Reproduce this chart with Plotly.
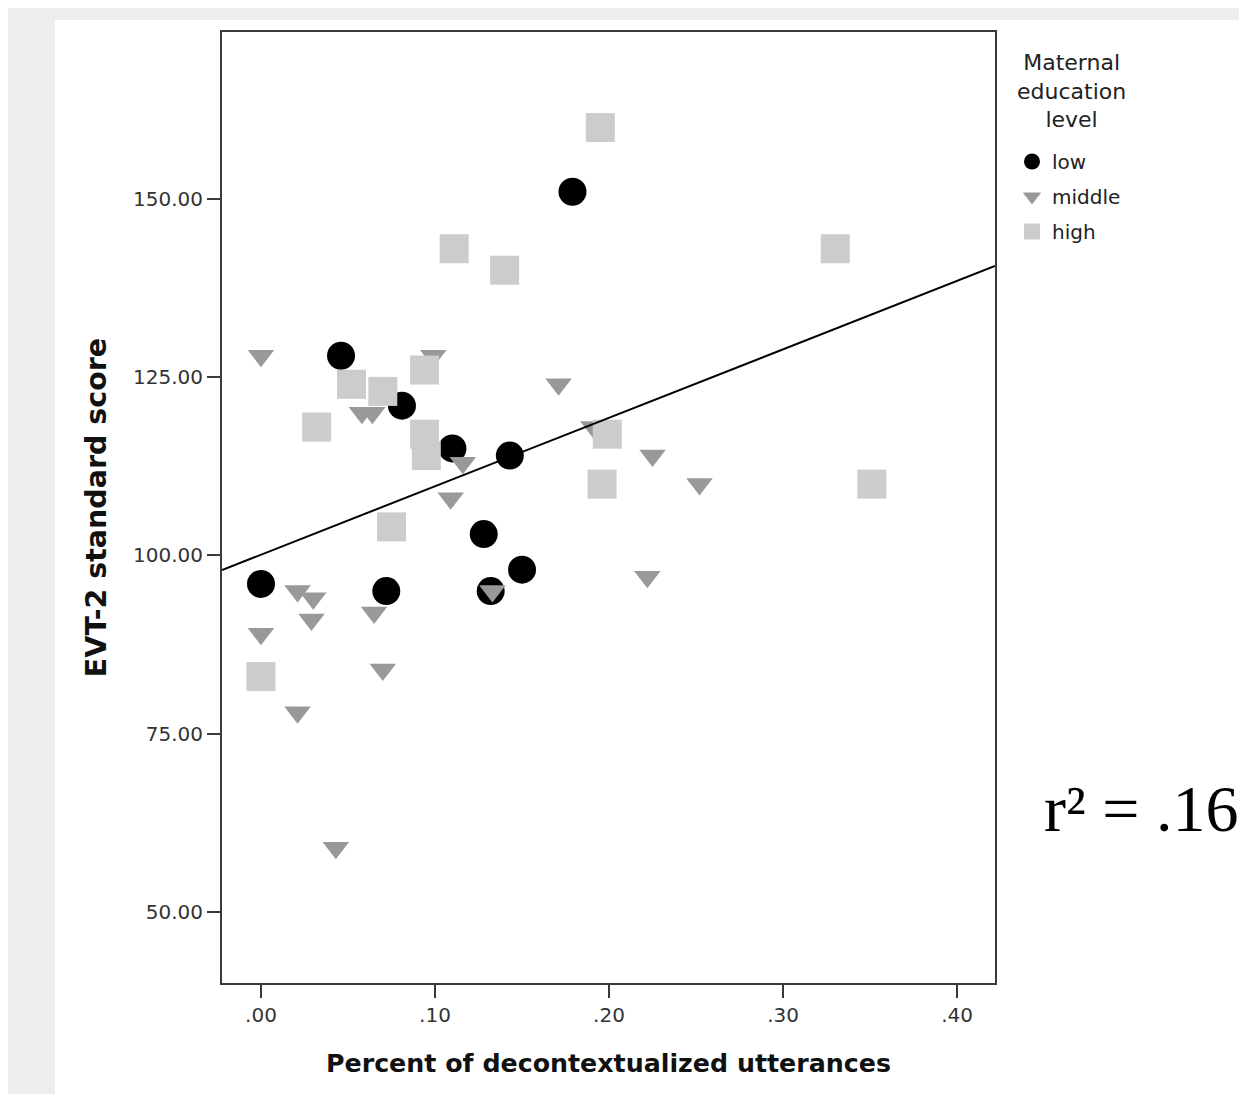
import plotly.graph_objects as go

# ---- data ----
low_x = [0.179, 0.046, 0.081, 0.110, 0.143, 0.128, 0.150, 0.000, 0.072, 0.132]
low_y = [151, 128, 121, 115, 114, 103, 98, 96, 95, 95]

middle_x = [0.000, 0.099, 0.058, 0.064, 0.171, 0.116, 0.191, 0.225, 0.252, 0.109,
            0.222, 0.021, 0.030, 0.029, 0.000, 0.065, 0.133, 0.070, 0.021, 0.043]
middle_y = [128, 128, 120, 120, 124, 113, 118, 114, 110, 108,
            97, 95, 94, 91, 89, 92, 95, 84, 78, 59]

high_x = [0.195, 0.111, 0.140, 0.330, 0.052, 0.070, 0.094, 0.032, 0.094, 0.095,
          0.199, 0.196, 0.351, 0.075, 0.000]
high_y = [160, 143, 140, 143, 124, 123, 126, 118, 117, 114,
          117, 110, 110, 104, 83]

fit_intercept = 100.1
fit_slope = 96.0

x_tick_vals = [0.0, 0.1, 0.2, 0.3, 0.4]
x_tick_labels = [".00", ".10", ".20", ".30", ".40"]
y_tick_vals = [50, 75, 100, 125, 150]
y_tick_labels = ["50.00", "75.00", "100.00", "125.00", "150.00"]

x_range = [-0.0224, 0.4218]
y_range = [40.04, 173.4]

# ---- figure geometry (page is offset by the 8px body margin) ----
OFF = 8
W, H = 1247 - OFF, 1094 - OFF
ml = 222 - OFF
mt = 32 - OFF
mr = W - (995 - OFF)
mb = H - (983 - OFF)
pw, ph = W - ml - mr, H - mt - mb

def pxx(px):  # page pixel x -> paper
    return (px - OFF - ml) / pw

def pxy(py):  # page pixel y -> paper
    return (H - mb - (py - OFF)) / ph

fig = go.Figure()

fig.add_trace(go.Scatter(
    x=low_x, y=low_y, mode="markers", name="low", legendgroup="low",
    marker=dict(symbol="circle", size=28, color="#000000", line=dict(width=0)),
))
fig.add_trace(go.Scatter(
    x=middle_x, y=middle_y, mode="markers", name="middle", legendgroup="middle",
    marker=dict(symbol="triangle-down", size=23, color="#999999", line=dict(width=0)),
))
fig.add_trace(go.Scatter(
    x=high_x, y=high_y, mode="markers", name="high", legendgroup="high",
    marker=dict(symbol="square", size=29, color="#cccccc", line=dict(width=0)),
))

line_x = list(x_range)
line_y = [fit_intercept + fit_slope * v for v in line_x]
fig.add_trace(go.Scatter(
    x=line_x, y=line_y, mode="lines", showlegend=False,
    line=dict(color="#000000", width=2),
))

axis_common = dict(
    showgrid=False, zeroline=False, showline=True, mirror=True,
    linecolor="#3a3a3a", linewidth=2,
    ticks="outside", ticklen=13, tickwidth=2, tickcolor="#3a3a3a",
    tickfont=dict(family="DejaVu Sans", size=20, color="#333333"),
)

fig.update_xaxes(
    range=x_range, tickmode="array", tickvals=x_tick_vals, ticktext=x_tick_labels,
    title=dict(text="Percent of decontextualized utterances",
               font=dict(family="DejaVu Sans", size=25.3, color="#111111", weight="bold"),
               standoff=28),
    **axis_common,
)
fig.update_yaxes(
    range=y_range, tickmode="array", tickvals=y_tick_vals, ticktext=y_tick_labels,
    title=dict(text="EVT-2 standard score",
               font=dict(family="DejaVu Sans", size=28.5, color="#111111", weight="bold"),
               standoff=18),
    **axis_common,
)

fig.update_layout(
    width=W, height=H,
    margin=dict(l=ml, r=mr, t=mt, b=mb, autoexpand=False),
    paper_bgcolor="#ededed",
    plot_bgcolor="#ffffff",
    showlegend=True,
    legend=dict(
        x=pxx(1012), y=pxy(142), xanchor="left", yanchor="top",
        bgcolor="rgba(0,0,0,0)",
        font=dict(family="DejaVu Sans", size=20, color="#222222"),
        traceorder="grouped", tracegroupgap=6,
        itemsizing="trace",
    ),
    shapes=[dict(
        type="rect", xref="paper", yref="paper", layer="below",
        x0=pxx(55), x1=pxx(1260),
        y0=pxy(1110), y1=pxy(20),
        fillcolor="#ffffff", line=dict(width=0),
    )],
    annotations=[
        dict(
            text="Maternal<br>education<br>level", xref="paper", yref="paper",
            x=pxx(1071), y=pxy(48), xanchor="center", yanchor="top", align="center",
            showarrow=False,
            font=dict(family="DejaVu Sans", size=22, color="#222222"),
        ),
        dict(
            text="r\u00b2 = .16", xref="paper", yref="paper",
            x=pxx(1141), y=pxy(808),
            xanchor="center", yanchor="middle", showarrow=False,
            font=dict(family="Liberation Serif", size=66, color="#000000"),
        ),
    ],
)

fig.write_html("out.html")
